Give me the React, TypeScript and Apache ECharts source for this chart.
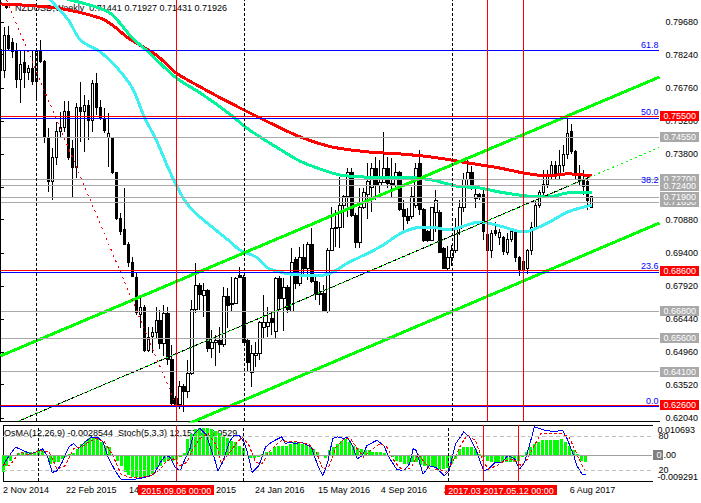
import React, { useEffect, useRef } from "react";
import * as echarts from "echarts";

const FONT = '"Liberation Sans", Arial, sans-serif';
const MONTHS = ["Jan", "Feb", "Mar", "Apr", "May", "Jun", "Jul", "Aug", "Sep", "Oct", "Nov", "Dec"];
const FIRST_WEEK = Date.UTC(2014, 10, 2);
const WEEK_SLOTS = 166;
const categories = Array.from({ length: WEEK_SLOTS }, (_, i) => {
  const d = new Date(FIRST_WEEK + i * 7 * 86400000);
  return `${d.getUTCDate()} ${MONTHS[d.getUTCMonth()]} ${d.getUTCFullYear()}`;
});
const dateTickIndices = [0, 16, 32, 48, 64, 80, 96, 112, 128, 144];

const PRICE_MIN = 0.61899;
const PRICE_MAX = 0.80675;
const priceTicks = [0.7968, 0.7824, 0.7676, 0.7528, 0.738, 0.7232, 0.7088, 0.694, 0.6792, 0.6644, 0.6496, 0.6352, 0.6204];
const OSMA_MAX = 0.010693;
const OSMA_MIN = -0.009291;

// weekly bars: [open, high, low, close]
const ohlc = [
  [0.7845, 0.7889, 0.7657, 0.7755], [0.7755, 0.7947, 0.772, 0.7911], [0.7911, 0.7952, 0.784, 0.785], [0.788, 0.79, 0.781, 0.7836],
  [0.7836, 0.7876, 0.7675, 0.7711], [0.7711, 0.7845, 0.7608, 0.7778], [0.779, 0.7845, 0.7675, 0.7746], [0.7746, 0.7778, 0.7711, 0.7764],
  [0.7764, 0.7845, 0.7688, 0.7702], [0.7702, 0.7854, 0.7621, 0.7836], [0.7836, 0.7889, 0.7786, 0.7791], [0.7791, 0.78, 0.743, 0.7456],
  [0.7452, 0.7497, 0.7211, 0.7256], [0.7256, 0.7407, 0.7175, 0.7363], [0.7363, 0.7523, 0.7332, 0.7479], [0.7479, 0.7568, 0.7455, 0.75],
  [0.75, 0.7617, 0.7479, 0.7572], [0.7572, 0.7617, 0.7354, 0.7363], [0.7407, 0.7443, 0.7189, 0.7322], [0.7322, 0.7608, 0.7273, 0.759],
  [0.759, 0.7702, 0.7434, 0.7568], [0.7568, 0.7644, 0.739, 0.7599], [0.7599, 0.7621, 0.7443, 0.7532], [0.7532, 0.7711, 0.7479, 0.7697],
  [0.7697, 0.7742, 0.7554, 0.759], [0.759, 0.7621, 0.7532, 0.7541], [0.7541, 0.7586, 0.7474, 0.7487], [0.7456, 0.7563, 0.7322, 0.7474],
  [0.7452, 0.7456, 0.729, 0.7296], [0.73, 0.7302, 0.7086, 0.7095], [0.7095, 0.7117, 0.7019, 0.7033], [0.7042, 0.7229, 0.6975, 0.6977],
  [0.6975, 0.6988, 0.6877, 0.6899], [0.6899, 0.6921, 0.6832, 0.6834], [0.6832, 0.685, 0.6663, 0.6676], [0.6663, 0.6743, 0.6605, 0.6698],
  [0.6694, 0.6707, 0.6498, 0.6506], [0.6506, 0.6609, 0.6498, 0.6564], [0.6566, 0.661, 0.6493, 0.6583], [0.6583, 0.67, 0.656, 0.664],
  [0.664, 0.6685, 0.651, 0.6536], [0.6536, 0.6707, 0.648, 0.6671], [0.6671, 0.67, 0.644, 0.6462], [0.6462, 0.653, 0.6255, 0.627],
  [0.629, 0.63, 0.6256, 0.6265], [0.6265, 0.6367, 0.6243, 0.6344], [0.6344, 0.6355, 0.623, 0.6322], [0.6322, 0.6462, 0.6291, 0.64],
  [0.64, 0.673, 0.6395, 0.6685], [0.6685, 0.6895, 0.6671, 0.6796], [0.6796, 0.6805, 0.6685, 0.6752], [0.6748, 0.6805, 0.6654, 0.677],
  [0.677, 0.678, 0.6497, 0.6515], [0.6515, 0.6596, 0.6471, 0.6542], [0.6538, 0.6573, 0.6436, 0.6551], [0.6551, 0.6609, 0.6493, 0.6529],
  [0.6529, 0.6787, 0.652, 0.6743], [0.6743, 0.6783, 0.6605, 0.6707], [0.671, 0.6832, 0.6676, 0.6716], [0.6716, 0.6832, 0.6712, 0.6827],
  [0.6841, 0.6877, 0.6827, 0.6832], [0.6832, 0.6841, 0.6538, 0.6542], [0.6551, 0.656, 0.6408, 0.6453], [0.6408, 0.6529, 0.6341, 0.6493],
  [0.648, 0.6542, 0.643, 0.6493], [0.6493, 0.6635, 0.6462, 0.6627], [0.6609, 0.6752, 0.656, 0.6627], [0.661, 0.6698, 0.6564, 0.6631],
  [0.6649, 0.6676, 0.6573, 0.6627], [0.6591, 0.6832, 0.656, 0.6827], [0.6827, 0.6835, 0.6685, 0.6738], [0.6738, 0.6827, 0.6591, 0.6787],
  [0.6787, 0.6796, 0.6671, 0.6685], [0.668, 0.6961, 0.6676, 0.6899], [0.6908, 0.6921, 0.678, 0.6805], [0.6805, 0.6966, 0.679, 0.6917],
  [0.6917, 0.698, 0.684, 0.687], [0.687, 0.6988, 0.6818, 0.6975], [0.6975, 0.705, 0.6805, 0.681], [0.681, 0.6832, 0.673, 0.6752],
  [0.6752, 0.681, 0.6707, 0.676], [0.676, 0.6796, 0.6676, 0.668], [0.668, 0.696, 0.6671, 0.6952], [0.6952, 0.7144, 0.6948, 0.705],
  [0.705, 0.7131, 0.6966, 0.7055], [0.7055, 0.7278, 0.6961, 0.715], [0.715, 0.7198, 0.705, 0.7189], [0.7189, 0.7318, 0.71, 0.73],
  [0.73, 0.7318, 0.71, 0.7108], [0.7108, 0.7117, 0.6961, 0.6984], [0.6984, 0.7229, 0.6961, 0.714], [0.714, 0.7229, 0.7135, 0.7207],
  [0.72, 0.734, 0.709, 0.726], [0.723, 0.734, 0.7122, 0.7318], [0.7318, 0.7367, 0.7175, 0.724], [0.724, 0.7354, 0.7206, 0.7254],
  [0.7254, 0.7479, 0.725, 0.7318], [0.7318, 0.7367, 0.7229, 0.7251], [0.7251, 0.7363, 0.7189, 0.724], [0.724, 0.734, 0.7233, 0.7296],
  [0.7296, 0.7305, 0.7126, 0.7131], [0.7131, 0.7175, 0.7033, 0.71], [0.71, 0.714, 0.707, 0.7086], [0.71, 0.7233, 0.709, 0.7189],
  [0.715, 0.734, 0.714, 0.7318], [0.734, 0.74, 0.7108, 0.7131], [0.7131, 0.714, 0.6988, 0.6997], [0.7033, 0.7042, 0.6988, 0.6997],
  [0.6997, 0.7144, 0.6992, 0.714], [0.7122, 0.722, 0.7033, 0.7175], [0.7122, 0.7131, 0.6939, 0.6943], [0.6961, 0.6966, 0.6868, 0.6872],
  [0.6872, 0.697, 0.6863, 0.6917], [0.6917, 0.6975, 0.688, 0.695], [0.695, 0.7095, 0.694, 0.705], [0.705, 0.7175, 0.702, 0.714],
  [0.714, 0.7296, 0.7122, 0.7265], [0.7265, 0.7363, 0.7229, 0.73], [0.73, 0.7327, 0.722, 0.7229], [0.718, 0.7233, 0.714, 0.7198],
  [0.7198, 0.7207, 0.7175, 0.7189], [0.7198, 0.722, 0.6997, 0.7033], [0.702, 0.706, 0.694, 0.695], [0.695, 0.704, 0.6915, 0.7025],
  [0.704, 0.7077, 0.7015, 0.7025], [0.701, 0.7046, 0.6975, 0.703], [0.701, 0.7015, 0.693, 0.6948], [0.694, 0.703, 0.693, 0.7],
  [0.7, 0.705, 0.699, 0.7035], [0.704, 0.7045, 0.69, 0.6917], [0.6917, 0.6925, 0.6838, 0.686], [0.686, 0.6912, 0.6838, 0.69],
  [0.687, 0.6955, 0.6845, 0.695], [0.695, 0.7077, 0.693, 0.7055], [0.7055, 0.717, 0.704, 0.715], [0.715, 0.722, 0.714, 0.7207],
  [0.7207, 0.731, 0.719, 0.7243], [0.7243, 0.731, 0.723, 0.7285], [0.7285, 0.735, 0.727, 0.733], [0.733, 0.735, 0.727, 0.7285],
  [0.7285, 0.74, 0.7265, 0.733], [0.733, 0.742, 0.73, 0.738], [0.738, 0.755, 0.736, 0.747], [0.748, 0.7515, 0.738, 0.7391],
  [0.7391, 0.74, 0.727, 0.7287], [0.7287, 0.733, 0.724, 0.7264], [0.7264, 0.731, 0.72, 0.7235], [0.726, 0.7275, 0.7131, 0.7175],
  [0.71441, 0.71927, 0.71431, 0.71926],
];

// moving averages: [week index, price]
const maRed = [
  [0, 0.805], [14, 0.8032], [25, 0.7987], [28, 0.7956], [32, 0.7898], [39, 0.7822], [44, 0.7742], [50, 0.768], [57, 0.7613],
  [62, 0.7568], [69, 0.7506], [75, 0.7457], [83, 0.7412], [92, 0.739], [100, 0.7381], [108, 0.7367], [117, 0.7341],
  [125, 0.7318], [131, 0.7296], [137, 0.7283], [142, 0.7292], [148, 0.7283],
];
const maGreen = [
  [10, 0.811], [15, 0.808], [27, 0.8014], [33, 0.7898], [37, 0.7836], [44, 0.772], [50, 0.7653], [57, 0.7564], [62, 0.7492],
  [69, 0.7412], [75, 0.7349], [80, 0.7314], [85, 0.7287], [91, 0.7278], [100, 0.7278], [108, 0.7265], [114, 0.7238],
  [120, 0.7229], [125, 0.7211], [132, 0.7193], [137, 0.7189], [142, 0.7207], [148, 0.7211],
];
const maCyan = [
  [10, 0.815], [12, 0.808], [17, 0.7978], [20, 0.7889], [25, 0.7836], [29, 0.7769], [33, 0.7675], [36, 0.7546], [39, 0.7443],
  [42, 0.7318], [45, 0.7207], [48, 0.7131], [53, 0.7055], [57, 0.6997], [60, 0.6952], [64, 0.6921], [67, 0.6872], [71, 0.685],
  [75, 0.6841], [81, 0.6841], [87, 0.6895], [95, 0.6966], [100, 0.7024], [104, 0.7051], [108, 0.7055], [112, 0.7042],
  [120, 0.7077], [125, 0.706], [131, 0.7033], [137, 0.7073], [142, 0.7122], [148, 0.7153],
];

// hand-drawn objects
const channelUpper = [[0, 0.648], [165, 0.7724]];
const channelLower = [[40, 0.6124], [165, 0.7073]];
const trendMid = [[0, 0.6155], [147.5, 0.7278]];
const trendMidDots = [[0, 0.6155], [165, 0.741]];
const fibTrend = [[1.5, 0.8067], [44, 0.626]];
const fibLevels = [
  { label: "61.8", value: 0.78427 }, { label: "50.0", value: 0.75417 }, { label: "38.2", value: 0.724 },
  { label: "23.6", value: 0.68549 }, { label: "0.0", value: 0.6255 },
];
const grayLevels = [0.7455, 0.727, 0.724, 0.7165, 0.719, 0.668, 0.656, 0.641];
const redLevels = [0.755, 0.686, 0.626];
const redMarkers = [
  { index: 44, label: "2015.09.06 00:00" },
  { index: 122, label: "2017.03.05 00:00" },
  { index: 131, label: "2017.05.12 00:00" },
];
const yearSeparators = [9, 61, 113];

// OsMA(12,26,9) histogram, one value per week
const osma = [
  -0.0062, -0.0038, -0.002, -0.0005, 0.0007, 0.001, 0.001, 0.0012, 0.0012, 0.0019,
  0.0022, -0.0005, -0.0032, -0.0026, -0.0024, -0.0014, -0.0008, 0.0004, 0.0007, 0.0022,
  0.0039, 0.0051, 0.006, 0.0063, 0.0063, 0.0045, 0.0033, 0.0028, 0.0, -0.002,
  -0.0038, -0.0062, -0.0072, -0.0078, -0.008, -0.008, -0.0078, -0.0074, -0.0068, -0.005,
  -0.0038, -0.0026, -0.002, -0.002, -0.0017, -0.0008, 0.0007, 0.0057, 0.0075, 0.0091,
  0.0096, 0.0098, 0.0096, 0.0093, 0.0087, 0.0079, 0.0069, 0.006, 0.0051, 0.0045,
  0.0031, 0.0024, -0.0002, -0.0012, -0.0012, -0.0008, 0.0004, 0.001, 0.0012, 0.0028,
  0.0033, 0.0031, 0.0031, 0.0039, 0.0045, 0.0043, 0.0039, 0.0036, 0.0028, 0.0022,
  0.0012, -0.0005, -0.0012, 0.0016, 0.0028, 0.0039, 0.0051, 0.0057, 0.0045, 0.0033,
  0.0024, 0.0022, 0.0016, 0.0016, 0.0012, 0.001, 0.001, 0.0007, 0.0, -0.0008,
  -0.002, -0.0026, -0.0032, -0.0032, -0.0024, -0.0026, -0.0036, -0.0038, -0.0038, -0.0041,
  -0.0044, -0.005, -0.005, -0.0048, -0.0032, -0.0014, 0.0022, 0.0028, 0.003, 0.0028,
  0.0022, 0.0004, -0.0008, -0.002, -0.0024, -0.0024, -0.0026, -0.0026, -0.0024, -0.0024,
  -0.0026, -0.002, -0.0008, 0.0012, 0.0028, 0.0039, 0.0048, 0.0055, 0.0055, 0.0055,
  0.0055, 0.0055, 0.0057, 0.0048, 0.0033, 0.0016, 0.0004, -0.002, -0.0026,
];

// Stochastic(5,3,3): [week index, value]
const stochMain = [
  [0, 27.3], [1, 39.4], [3.2, 60.6], [5, 54.5], [7.1, 48.5], [8.3, 51.5], [10, 57.6], [11.25, 45.5], [12.5, 15.2],
  [13.75, 18.2], [15, 33.3], [16.7, 60.6], [17.9, 66.7], [19.2, 57.6], [20.8, 69.7], [22.5, 78.8], [24.2, 77],
  [25.4, 69.7], [26.7, 42.4], [28.75, 15.2], [30, 3], [31.7, 3], [33.3, 3], [35.8, 6], [38.3, 12], [40, 33.3],
  [41.25, 45.5], [42.5, 42.4], [43.75, 24.2], [45, 18.2], [46.25, 39.4], [47.5, 57.6], [48.3, 81.8], [50, 93.9],
  [51.7, 81.8], [52.5, 63.6], [53.75, 39.4], [54.6, 18.2], [55.8, 33.3], [57.5, 69.7], [58.75, 81.8], [60, 81.8],
  [61.25, 69.7], [62.1, 51.5], [63.3, 15.2], [65, 27.3], [66.7, 60.6], [68.3, 69.7], [70.8, 78.8], [71.7, 66.7],
  [72.9, 69.7], [74.2, 66.7], [75.8, 69.7], [78.3, 60.6], [80, 27.3], [81.25, 9.1], [82.5, 33.3], [83.75, 75.8],
  [85, 78.8], [86.7, 75.8], [87.5, 78.8], [88.75, 63.6], [90, 39.4], [91.25, 45.5], [92.5, 63.6], [95, 72.7],
  [96.7, 63.6], [98.3, 39.4], [100, 21.2], [101.7, 18.2], [103.3, 30.3], [104.2, 57.6], [105, 54.5], [106.7, 12.1],
  [108.3, 27.3], [110, 24.2], [112.1, 9.1], [113.3, 18.2], [115, 66.7], [117.1, 87.9], [118.75, 75.8], [120.4, 51.5],
  [122.1, 18.2], [123.3, 21.2], [125, 33.3], [126.7, 33.3], [128.3, 45.5], [130, 39.4], [131.25, 21.2], [132.5, 33.3],
  [133.75, 63.6], [135, 97], [137.5, 90.9], [140, 87.9], [142.1, 90.9], [143.3, 75.8], [145, 45.5], [145.8, 27.3],
  [147.1, 12.1], [148, 12.16],
];
const stochSignal = [
  [0, 30], [1.7, 27.3], [4.2, 51.5], [6.7, 46.7], [9.2, 54.5], [11.7, 51.5], [13.75, 21.2], [15.8, 27.3], [17.9, 57.6],
  [20, 60.6], [21.7, 69.7], [23.75, 75.8], [25.8, 69.7], [27.9, 45.5], [30, 12.1], [32.5, 6.1], [35, 6.1], [37.5, 9.1],
  [40, 21.2], [41.7, 36.4], [43.3, 39.4], [45, 27.3], [46.7, 33.3], [48.3, 57.6], [50, 75.8], [52.1, 84.8], [54.2, 63.6],
  [55.4, 33.3], [57.1, 45.5], [59.2, 66.7], [60.8, 78.8], [62.5, 63.6], [64.2, 33.3], [65.8, 30.3], [67.5, 51.5],
  [69.2, 63.6], [70.8, 72.7], [72.5, 69.7], [75, 69.7], [77.5, 66.7], [79.6, 51.5], [81.25, 21.2], [82.9, 27.3],
  [84.6, 60.6], [86.7, 75.8], [88.3, 75.8], [90, 57.6], [91.7, 42.4], [93.3, 54.5], [95.8, 66.7], [97.5, 60.6],
  [99.6, 33.3], [101.7, 18.2], [103.75, 24.2], [105.4, 48.5], [107.1, 33.3], [108.75, 18.2], [110.8, 21.2],
  [112.5, 15.2], [114.2, 33.3], [116.25, 63.6], [117.9, 81.8], [120, 72.7], [121.7, 39.4], [123.3, 21.2],
  [125.4, 27.3], [127.5, 36.4], [129.6, 39.4], [131.7, 27.3], [133.3, 39.4], [135, 63.6], [136.7, 84.8],
  [139.2, 84.8], [141.7, 84.8], [143.75, 78.8], [145, 60.6], [146.7, 33.3], [148, 16.05],
];

const HEADER = "NZDUSD,Weekly  0.71441 0.71927 0.71431 0.71926";
const SUB_HEADER = "OsMA(12,26,9) -0.0028544  Stoch(5,3,3) 12.1575 16.0529";

function buildOption() {
  const candleData = ohlc.map(([o, h, l, c]) => [o, c, l, h]);
  const boxLabel = (text: string, bg: string) => ({
    show: true, position: "end", distance: 1, formatter: text, color: "#ffffff", backgroundColor: bg,
    padding: [1, 3, 0, 3], fontSize: 9, fontFamily: FONT,
  });
  const mainMarks: any[] = [];
  fibLevels.forEach((f) => mainMarks.push({
    yAxis: f.value, lineStyle: { color: "#0000ff", width: 1, type: "solid" },
    label: { show: true, position: "insideEndTop", distance: 1, formatter: f.label, color: "#0000ff", fontSize: 9, fontFamily: FONT },
  }));
  grayLevels.forEach((v) => mainMarks.push({
    yAxis: v, lineStyle: { color: "#a9a9a9", width: 1, type: "solid" }, label: boxLabel(v.toFixed(5), "#a9a9a9"),
  }));
  redLevels.forEach((v) => mainMarks.push({
    yAxis: v, lineStyle: { color: "#ff0000", width: 1, type: "solid" }, label: boxLabel(v.toFixed(5), "#ff0000"),
  }));
  yearSeparators.forEach((i) => mainMarks.push({ xAxis: i, lineStyle: { color: "#000000", width: 1, type: [3, 2] }, label: { show: false } }));
  redMarkers.forEach((m) => mainMarks.push({ xAxis: m.index, lineStyle: { color: "#ff0000", width: 1, type: "solid" }, label: { show: false } }));

  const subMarks: any[] = [
    { yAxis: 80, lineStyle: { color: "#c0c0c0", width: 1, type: [4, 3] }, label: { show: false } },
    { yAxis: 20, lineStyle: { color: "#c0c0c0", width: 1, type: [4, 3] }, label: { show: false } },
  ];
  yearSeparators.forEach((i) => subMarks.push({ xAxis: i, lineStyle: { color: "#000000", width: 1, type: [3, 2] }, label: { show: false } }));
  redMarkers.forEach((m) => subMarks.push({
    xAxis: m.index, lineStyle: { color: "#ff0000", width: 1, type: "solid" },
    label: { show: true, position: "start", distance: 4, formatter: m.label, color: "#ffffff", backgroundColor: "#ff0000", padding: [1, 3, 0, 3], fontSize: 9, fontFamily: FONT },
  }));

  const line = (data: number[][], color: string, width: number, extra: any = {}) => ({
    type: "line", xAxisIndex: 1, yAxisIndex: 0, data, symbol: "none", silent: true, z: 4,
    lineStyle: { color, width, ...(extra.lineStyle || {}) }, smooth: extra.smooth || false,
  });

  return {
    animation: false,
    backgroundColor: "#ffffff",
    textStyle: { fontFamily: FONT },
    grid: [
      { left: 0.5, top: 0, width: 660, height: 421 },
      { left: 0.5, top: 425, width: 660, height: 56 },
    ],
    xAxis: [
      { type: "category", gridIndex: 0, data: categories, boundaryGap: false, axisLine: { onZero: false, lineStyle: { color: "#000" } }, axisTick: { show: false }, axisLabel: { show: false }, splitLine: { show: false } },
      { type: "value", gridIndex: 0, min: 0, max: WEEK_SLOTS - 1, show: false },
      {
        type: "category", gridIndex: 1, data: categories, boundaryGap: false, position: "bottom",
        axisLine: { onZero: false, lineStyle: { color: "#000" } }, axisTick: { show: false },
        axisLabel: { interval: (idx: number) => dateTickIndices.includes(idx), align: "left", color: "#000", fontSize: 9, margin: 4, fontFamily: FONT },
        splitLine: { show: false },
      },
      { type: "value", gridIndex: 1, min: 0, max: WEEK_SLOTS - 1, show: false },
      { type: "category", gridIndex: 1, data: categories, boundaryGap: false, position: "top", axisLine: { onZero: false, lineStyle: { color: "#000" } }, axisTick: { show: false }, axisLabel: { show: false } },
    ],
    yAxis: [
      {
        type: "value", gridIndex: 0, position: "right", min: PRICE_MIN, max: PRICE_MAX,
        axisLine: { show: true, lineStyle: { color: "#000" } },
        axisTick: { show: true, length: 3, customValues: priceTicks, lineStyle: { color: "#000" } },
        axisLabel: { customValues: priceTicks, formatter: (v: number) => v.toFixed(5), color: "#000", fontSize: 9, margin: 6, fontFamily: FONT },
        splitLine: { show: false },
      },
      {
        type: "value", gridIndex: 1, position: "right", min: OSMA_MIN, max: OSMA_MAX,
        axisLine: { show: true, lineStyle: { color: "#000" } },
        axisTick: { show: false },
        axisLabel: {
          customValues: [OSMA_MAX, OSMA_MIN], margin: 5,
          formatter: (v: number) => (v > 0 ? `{top|${v.toFixed(6)}}` : `{bot|${v.toFixed(6)}}`),
          rich: {
            top: { padding: [10, 0, 0, 0], fontSize: 9, color: "#000", fontFamily: FONT },
            bot: { padding: [0, 0, 8, 0], fontSize: 9, color: "#000", fontFamily: FONT },
          },
        },
        splitLine: { show: false },
      },
      {
        type: "value", gridIndex: 1, position: "right", min: 0, max: 100,
        axisLine: { show: false }, axisTick: { show: false },
        axisLabel: { customValues: [20, 80], color: "#000", fontSize: 9, margin: 6, fontFamily: FONT },
        splitLine: { show: false },
      },
    ],
    graphic: [
      { type: "polygon", z: 1, silent: true, shape: { points: [[3, 4], [10, 4], [6.5, 9]] }, style: { fill: "#000" } },
      { type: "text", z: 1, silent: true, x: 15, y: 3, style: { text: HEADER, fill: "#000", font: `9px ${FONT}` } },
      { type: "text", z: 1, silent: true, x: 4, y: 428, style: { text: SUB_HEADER, fill: "#000", font: `9px ${FONT}` } },
    ],
    series: [
      {
        type: "candlestick", xAxisIndex: 0, yAxisIndex: 0, data: candleData, barWidth: 3, z: 2, silent: true,
        itemStyle: { color: "#ffffff", color0: "#000000", borderColor: "#000000", borderColor0: "#000000", borderWidth: 1 },
      },
      {
        type: "line", xAxisIndex: 1, yAxisIndex: 0, data: [[0, 0.7]], symbol: "none", silent: true, z: 3,
        lineStyle: { opacity: 0 },
        markLine: { symbol: ["none", "none"], precision: 6, silent: true, animation: false, data: mainMarks },
      },
      line(maRed, "#ff0000", 3, { smooth: 0.3 }),
      line(maGreen, "#00f59b", 3, { smooth: 0.3 }),
      line(maCyan, "#3ff0f0", 3, { smooth: 0.3 }),
      line(channelUpper, "#00ff00", 3),
      line(channelLower, "#00ff00", 3),
      line(trendMid, "#000000", 1),
      line(trendMidDots, "#00ff00", 1, { lineStyle: { type: [2, 3] } }),
      line(fibTrend, "#ff0000", 1, { lineStyle: { type: [2, 4] } }),
      {
        type: "bar", xAxisIndex: 2, yAxisIndex: 1, data: osma, barWidth: 3, silent: true, z: 2,
        itemStyle: { color: "#00ff00" },
        markLine: {
          symbol: ["none", "none"], precision: 6, silent: true, animation: false,
          data: [{
            yAxis: 0, lineStyle: { color: "#a0a0a0", width: 1, type: "solid" },
            label: {
              show: true, position: "end", distance: 1, formatter: "{a|0}{b|.00}",
              rich: {
                a: { backgroundColor: "#808080", color: "#ffffff", padding: [1, 2, 0, 3], fontSize: 9, fontFamily: FONT },
                b: { color: "#000000", fontSize: 9, fontFamily: FONT },
              },
            },
          }],
        },
      },
      {
        type: "line", xAxisIndex: 3, yAxisIndex: 2, data: stochMain, symbol: "none", silent: true, z: 4,
        lineStyle: { color: "#0000ff", width: 1 },
        markLine: { symbol: ["none", "none"], precision: 6, silent: true, animation: false, data: subMarks },
      },
      {
        type: "line", xAxisIndex: 3, yAxisIndex: 2, data: stochSignal, symbol: "none", silent: true, z: 4,
        lineStyle: { color: "#ff0000", width: 1, type: [3, 2] },
      },
    ],
  };
}

export default function App() {
  const ref = useRef<HTMLDivElement>(null);
  useEffect(() => {
    if (!ref.current) return;
    const chart = echarts.init(ref.current, undefined, { renderer: "svg" });
    chart.setOption(buildOption() as any);
    return () => chart.dispose();
  }, []);
  return (
    <>
      <style>{".mt4chart svg { shape-rendering: crispEdges; }"}</style>
      <div
        ref={ref}
        className="mt4chart"
        style={{ position: "absolute", left: 0, top: 0, width: 701, height: 503, background: "#fff" }}
      />
    </>
  );
}
